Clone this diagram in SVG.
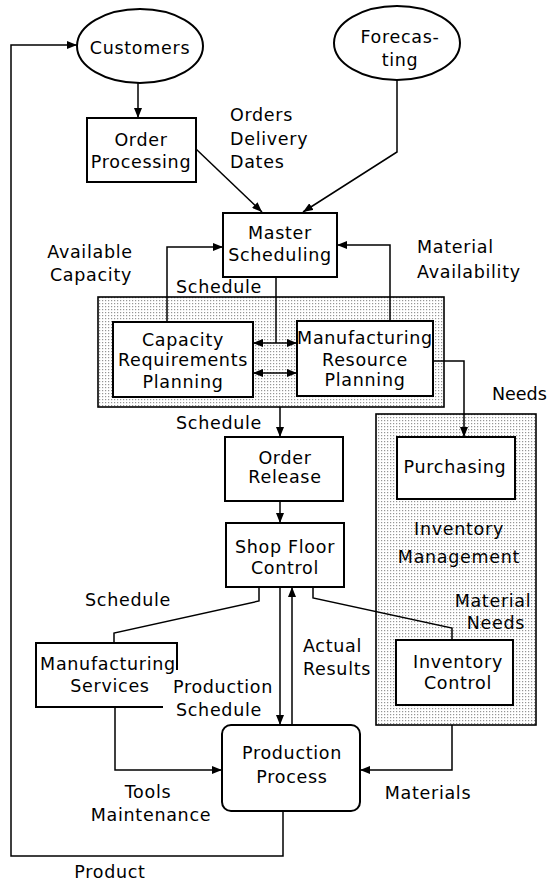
<svg xmlns="http://www.w3.org/2000/svg" width="549" height="884" viewBox="0 0 549 884">
<defs>
<pattern id="dots" width="3" height="3" patternUnits="userSpaceOnUse">
<rect width="3" height="3" fill="#ffffff"/>
<rect x="0" y="0" width="1.2" height="1.2" fill="#959595"/>
</pattern>
<marker id="ah" viewBox="0 0 10 8" refX="10" refY="4" markerWidth="10" markerHeight="8" markerUnits="userSpaceOnUse" orient="auto-start-reverse">
<path d="M0,0 L10,4 L0,8 Z" fill="#000"/>
</marker>
</defs>
<style>
text{font-family:"DejaVu Sans","Liberation Sans",sans-serif;font-size:17.5px;letter-spacing:0.7px;fill:#000}
.c{text-anchor:middle}
.box{fill:#fff;stroke:#000;stroke-width:2}
.shade{fill:url(#dots);stroke:#000;stroke-width:1.6}
.ln{fill:none;stroke:#000;stroke-width:1.5}
.ar{marker-end:url(#ah)}
</style>
<rect width="549" height="884" fill="#fff"/>

<g id="mrp-area"><rect class="shade" x="98" y="297" width="346" height="110"/></g>
<g id="inventory-management">
<rect class="shade" x="376" y="414" width="160" height="311"/>
<text class="c" x="459" y="535">Inventory</text>
<text class="c" x="459" y="563">Management</text>
</g>

<g id="connectors">
<path class="ln ar" d="M283,811 V856 H11 V45 H77"/>
<path class="ln ar" d="M138,83 V118"/>
<path class="ln ar" d="M196,149 L262,212"/>
<path class="ln ar" d="M397,80 V152 L303,212"/>
<path class="ln ar" d="M167,322 V247 H223"/>
<path class="ln ar" d="M390,321 V245 H337"/>
<path class="ln" d="M276,277 V343"/>
<path class="ln ar" d="M276,343 H253"/>
<path class="ln ar" d="M276,343 H297"/>
<path class="ln ar" d="M275,373 H253"/>
<path class="ln ar" d="M275,373 H297"/>
<path class="ln ar" d="M280,407 V437"/>
<path class="ln ar" d="M280,501 V523"/>
<path class="ln ar" d="M433,361 H464 V437"/>
<path class="ln" d="M259,587 V601 L114,633 V643"/>
<path class="ln ar" d="M280,587 V725"/>
<path class="ln ar" d="M292,725 V587"/>
<path class="ln" d="M313,587 V598 L452,628 V640"/>
<path class="ln ar" d="M115,707 V770 H222"/>
<path class="ln ar" d="M452,725 V770 H360"/>
</g>

<g id="customers">
<ellipse class="box" cx="140" cy="46" rx="63" ry="37"/>
<text class="c" x="140" y="54">Customers</text>
</g>
<g id="forecasting">
<ellipse class="box" cx="397" cy="43" rx="63" ry="37"/>
<text class="c" x="400" y="43">Forecas-</text>
<text class="c" x="400" y="66">ting</text>
</g>
<g id="order-processing">
<rect class="box" x="87" y="118" width="109" height="64"/>
<text class="c" x="141" y="146">Order</text>
<text class="c" x="141" y="168">Processing</text>
</g>
<g id="master-scheduling">
<rect class="box" x="223" y="213" width="114" height="64"/>
<text class="c" x="280" y="239">Master</text>
<text class="c" x="280" y="261">Scheduling</text>
</g>
<g id="capacity-requirements-planning">
<rect class="box" x="113" y="322" width="140" height="75"/>
<text class="c" x="183" y="346">Capacity</text>
<text class="c" x="183" y="366">Requirements</text>
<text class="c" x="183" y="388">Planning</text>
</g>
<g id="manufacturing-resource-planning">
<rect class="box" x="297" y="321" width="136" height="75"/>
<text class="c" x="365" y="344">Manufacturing</text>
<text class="c" x="365" y="366">Resource</text>
<text class="c" x="365" y="386">Planning</text>
</g>
<g id="order-release">
<rect class="box" x="225" y="437" width="118" height="64"/>
<text class="c" x="285" y="464">Order</text>
<text class="c" x="285" y="483">Release</text>
</g>
<g id="purchasing">
<rect class="box" x="397" y="437" width="118" height="62"/>
<text class="c" x="455" y="473">Purchasing</text>
</g>
<g id="shop-floor-control">
<rect class="box" x="226" y="523" width="118" height="64"/>
<text class="c" x="285" y="553">Shop Floor</text>
<text class="c" x="285" y="574">Control</text>
</g>
<g id="manufacturing-services">
<path d="M177,670 V643 H36 V707 H163" fill="none" stroke="#000" stroke-width="2"/>
<text class="c" x="108" y="670">Manufacturing</text>
<text class="c" x="110" y="692">Services</text>
</g>
<g id="inventory-control">
<rect class="box" x="396" y="640" width="117" height="65"/>
<text class="c" x="458" y="668">Inventory</text>
<text class="c" x="458" y="689">Control</text>
</g>
<g id="production-process">
<rect class="box" x="222" y="725" width="138" height="86" rx="9"/>
<text class="c" x="292" y="759">Production</text>
<text class="c" x="292" y="783">Process</text>
</g>

<g id="labels">
<text x="230" y="121">Orders</text>
<text x="230" y="145">Delivery</text>
<text x="230" y="168">Dates</text>
<text class="c" x="90" y="258">Available</text>
<text class="c" x="91" y="281">Capacity</text>
<text x="417" y="253">Material</text>
<text x="417" y="278">Availability</text>
<text x="176" y="293">Schedule</text>
<text x="176" y="429">Schedule</text>
<text x="492" y="400" style="letter-spacing:0">Needs</text>
<text x="85" y="606">Schedule</text>
<text class="c" x="493" y="607">Material</text>
<text class="c" x="496" y="629">Needs</text>
<text x="303" y="652">Actual</text>
<text x="303" y="675">Results</text>
<text class="c" x="223" y="693">Production</text>
<text class="c" x="219" y="716">Schedule</text>
<text class="c" x="148" y="798">Tools</text>
<text class="c" x="151" y="821">Maintenance</text>
<text class="c" x="428" y="799">Materials</text>
<text class="c" x="110" y="878">Product</text>
</g>
</svg>
